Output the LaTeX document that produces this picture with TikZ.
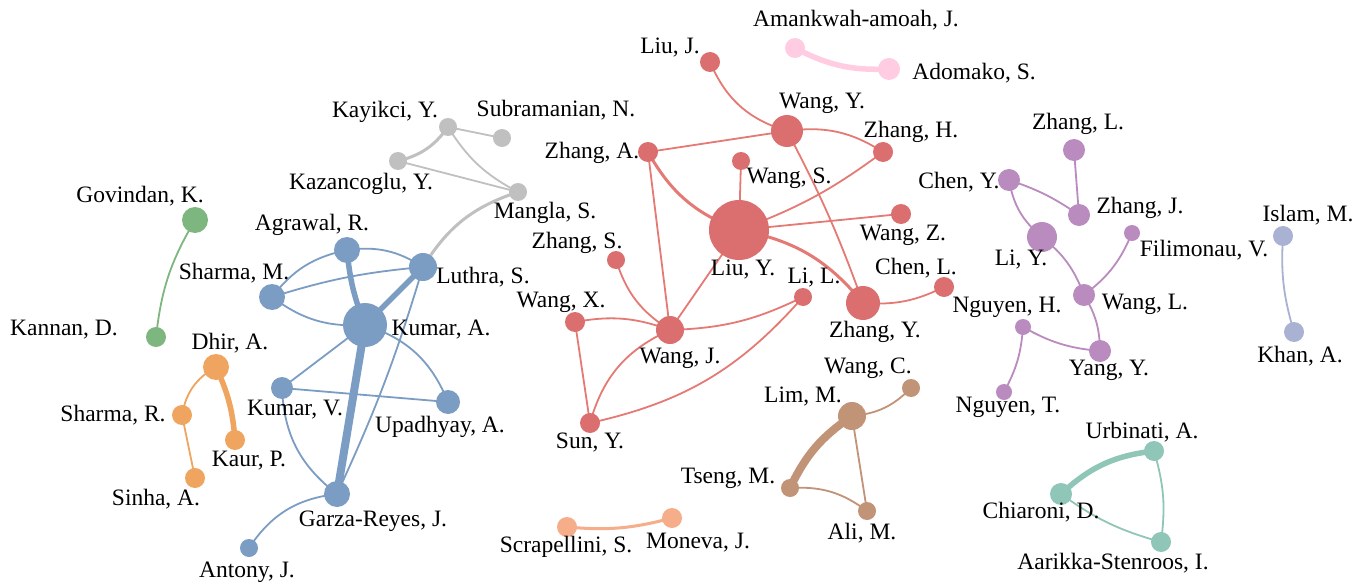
\documentclass[tikz,border=0pt]{standalone}
\usepackage{fontspec}
\setmainfont{Liberation Serif}
\pgfdeclarelayer{back}
\pgfdeclarelayer{bg}
\pgfsetlayers{back,bg,main}
\definecolor{cb}{HTML}{7B9DC3}
\definecolor{cgy}{HTML}{C0C0C0}
\definecolor{cgr}{HTML}{7DB77F}
\definecolor{cor}{HTML}{EFA55F}
\definecolor{crd}{HTML}{DB6F70}
\definecolor{cre}{HTML}{E57A74}
\definecolor{cpk}{HTML}{FFCCE1}
\definecolor{cpu}{HTML}{B98BBE}
\definecolor{cla}{HTML}{A9B2D3}
\definecolor{cbr}{HTML}{C19377}
\definecolor{csa}{HTML}{F5AD8A}
\definecolor{cte}{HTML}{8FC6B7}
\begin{document}
\begin{tikzpicture}[x=1pt,y=-1pt,
  au/.style 2 args={circle,inner sep=0pt,fill=#1,minimum size=#2},
  lab/.style={font=\fontsize{23.5}{27}\selectfont,inner sep=0pt,text=black},
  ln/.style={draw=#1,line width=1.8pt},
  md/.style={draw=#1,line width=3pt},
  tk/.style={draw=#1,line width=5.5pt},
  vt/.style={draw=#1,line width=8pt}]
\begin{pgfonlayer}{back}
\fill[white] (0,0) rectangle (1368,583);
\end{pgfonlayer}
\useasboundingbox (0,0) rectangle (1368,583);

% ---------- blue cluster
\node[au={cb}{26pt}] (agrawal) at (347,250) {};
\node[au={cb}{28pt}] (luthra) at (423,267) {};
\node[au={cb}{26pt}] (sharmam) at (272,297) {};
\node[au={cb}{44pt}] (kumara) at (365,325) {};
\node[au={cb}{22pt}] (kumarv) at (282,388) {};
\node[au={cb}{24pt}] (upadhyay) at (448,402) {};
\node[au={cb}{26pt}] (garza) at (337,494) {};
\node[au={cb}{18pt}] (antony) at (249,548) {};
% ---------- gray cluster
\node[au={cgy}{18pt}] (kayikci) at (448,127) {};
\node[au={cgy}{18pt}] (subra) at (502,138) {};
\node[au={cgy}{18pt}] (kazan) at (398,161) {};
\node[au={cgy}{18pt}] (mangla) at (518,192) {};
% ---------- green
\node[au={cgr}{26pt}] (govindan) at (195,220) {};
\node[au={cgr}{20pt}] (kannan) at (156,337) {};
% ---------- orange
\node[au={cor}{26pt}] (dhir) at (216,367) {};
\node[au={cor}{20pt}] (sharmar) at (182,415) {};
\node[au={cor}{20pt}] (kaur) at (235,440) {};
\node[au={cor}{20pt}] (sinha) at (195,478) {};
% ---------- red cluster
\node[au={crd}{20pt}] (liuj) at (710,62) {};
\node[au={crd}{32pt}] (wangy) at (787,131) {};
\node[au={crd}{20pt}] (zhangh) at (883,152) {};
\node[au={crd}{20pt}] (zhanga) at (648,152) {};
\node[au={crd}{18pt}] (wangs) at (741,161) {};
\node[au={crd}{60pt}] (liuy) at (739,230) {};
\node[au={crd}{20pt}] (wangz) at (901,214) {};
\node[au={crd}{18pt}] (zhangs) at (616,260) {};
\node[au={crd}{18pt}] (lil) at (803,297) {};
\node[au={crd}{34pt}] (zhangy) at (863,303) {};
\node[au={crd}{20pt}] (chenl) at (944,287) {};
\node[au={crd}{20pt}] (wangx) at (575,322) {};
\node[au={crd}{28pt}] (wangj) at (670,330) {};
\node[au={crd}{20pt}] (suny) at (590,423) {};
% ---------- pink
\node[au={cpk}{20pt}] (amank) at (795,48) {};
\node[au={cpk}{22pt}] (adomako) at (889,69) {};
% ---------- purple
\node[au={cpu}{22pt}] (zhangl) at (1074,150) {};
\node[au={cpu}{22pt}] (cheny) at (1009,180) {};
\node[au={cpu}{22pt}] (zhangj) at (1079,215) {};
\node[au={cpu}{30pt}] (liy) at (1042,237) {};
\node[au={cpu}{16pt}] (filim) at (1132,233) {};
\node[au={cpu}{22pt}] (wangl) at (1084,295) {};
\node[au={cpu}{16pt}] (nguyenh) at (1023,327) {};
\node[au={cpu}{22pt}] (yangy) at (1100,351) {};
\node[au={cpu}{16pt}] (nguyent) at (1004,392) {};
% ---------- lavender
\node[au={cla}{20pt}] (islam) at (1283,236) {};
\node[au={cla}{20pt}] (khan) at (1294,332) {};
% ---------- brown
\node[au={cbr}{28pt}] (lim) at (852,416) {};
\node[au={cbr}{18pt}] (wangc) at (911,388) {};
\node[au={cbr}{18pt}] (tseng) at (790,488) {};
\node[au={cbr}{18pt}] (ali) at (867,511) {};
% ---------- salmon
\node[au={csa}{20pt}] (scrap) at (567,527) {};
\node[au={csa}{20pt}] (moneva) at (672,518) {};
% ---------- teal
\node[au={cte}{20pt}] (urbinati) at (1154,451) {};
\node[au={cte}{22pt}] (chiaroni) at (1061,494) {};
\node[au={cte}{20pt}] (aarikka) at (1161,542) {};

\begin{pgfonlayer}{bg}
% blue
\draw[ln=cb] (sharmam.center) to[bend left=20] (agrawal.center);
\draw[ln=cb] (agrawal.center) to[bend left=20] (luthra.center);
\draw[ln=cb] (sharmam.center) to[bend left=6] (luthra.center);
\draw[ln=cb] (sharmam.center) to[bend right=20] (kumara.center);
\draw[tk=cb] (agrawal.center) to[bend right=8] (kumara.center);
\draw[tk=cb] (luthra.center) to (kumara.center);
\draw[ln=cb] (kumara.center) to (kumarv.center);
\draw[ln=cb] (kumara.center) to[bend left=25] (upadhyay.center);
\draw[vt=cb] (kumara.center) to (garza.center);
\draw[ln=cb] (kumarv.center) to (upadhyay.center);
\draw[ln=cb] (kumarv.center) to[bend right=25] (garza.center);
\draw[ln=cb] (luthra.center) to[bend left=4] (garza.center);
\draw[ln=cb] (garza.center) to[bend right=25] (antony.center);
% gray
\draw[ln=cgy] (kayikci.center) to (subra.center);
\draw[md=cgy] (kayikci.center) to[bend left=20] (kazan.center);
\draw[ln=cgy] (kayikci.center) to[bend right=15] (mangla.center);
\draw[ln=cgy] (kazan.center) to (mangla.center);
\draw[md=cgy] (mangla.center) to[bend right=20] (luthra.center);
% green
\draw[ln=cgr] (govindan.center) to[bend right=12] (kannan.center);
% orange
\draw[ln=cor] (dhir.center) to[bend right=25] (sharmar.center);
\draw[tk=cor] (dhir.center) to[bend left=10] (kaur.center);
\draw[ln=cor] (sharmar.center) to (sinha.center);
% red
\draw[ln=cre] (liuj.center) to[bend right=25] (wangy.center);
\draw[ln=cre] (wangy.center) to (zhanga.center);
\draw[ln=cre] (wangy.center) to[bend left=20] (zhangh.center);
\draw[ln=cre] (wangy.center) to[bend left=4] (zhangy.center);
\draw[md=cre] (zhanga.center) to[bend right=20] (liuy.center);
\draw[ln=cre] (zhanga.center) to (wangj.center);
\draw[ln=cre] (wangs.center) to (liuy.center);
\draw[ln=cre] (liuy.center) to[bend right=8] (zhangh.center);
\draw[ln=cre] (liuy.center) to (wangz.center);
\draw[md=cre] (liuy.center) to[bend left=20] (zhangy.center);
\draw[ln=cre] (liuy.center) to (wangj.center);
\draw[ln=cre] (zhangs.center) to[bend right=20] (wangj.center);
\draw[ln=cre] (wangx.center) to[bend left=15] (wangj.center);
\draw[ln=cre] (wangx.center) to (suny.center);
\draw[ln=cre] (wangj.center) to[bend right=12] (lil.center);
\draw[ln=cre] (wangj.center) to[bend right=25] (suny.center);
\draw[ln=cre] (lil.center) to[bend left=18] (suny.center);
\draw[ln=cre] (zhangy.center) to[bend right=15] (chenl.center);
% pink
\draw[tk=cpk] (amank.center) to[bend right=15] (adomako.center);
% purple
\draw[ln=cpu] (zhangl.center) to (zhangj.center);
\draw[ln=cpu] (cheny.center) to[bend left=8] (zhangj.center);
\draw[ln=cpu] (cheny.center) to[bend right=20] (liy.center);
\draw[ln=cpu] (liy.center) to[bend left=15] (wangl.center);
\draw[ln=cpu] (wangl.center) to[bend right=15] (filim.center);
\draw[ln=cpu] (wangl.center) to[bend left=15] (yangy.center);
\draw[ln=cpu] (nguyenh.center) to[bend right=12] (yangy.center);
\draw[ln=cpu] (nguyenh.center) to[bend left=12] (nguyent.center);
% lavender
\draw[ln=cla] (islam.center) to[bend right=10] (khan.center);
% brown
\draw[ln=cbr] (lim.center) to[bend right=20] (wangc.center);
\draw[vt=cbr] (lim.center) to[bend right=15] (tseng.center);
\draw[ln=cbr] (lim.center) to (ali.center);
\draw[ln=cbr] (tseng.center) to[bend left=20] (ali.center);
% salmon
\draw[md=csa] (scrap.center) to[bend right=10] (moneva.center);
% teal
\draw[tk=cte] (chiaroni.center) to[bend left=18] (urbinati.center);
\draw[ln=cte] (urbinati.center) to[bend left=12] (aarikka.center);
\draw[ln=cte] (chiaroni.center) to[bend right=10] (aarikka.center);
\end{pgfonlayer}

% ---------- labels
\node[lab] (l1) at (140,196) {Govindan, K.};
\node[lab] (l2) at (64,330) {Kannan, D.};
\node[lab] (l3) at (312,225) {Agrawal, R.};
\node[lab] (l4) at (234,273) {Sharma, M.};
\node[lab] (l5) at (483,277) {Luthra, S.};
\node[lab] (l6) at (441,330) {Kumar, A.};
\node[lab] (l7) at (295,410) {Kumar, V.};
\node[lab] (l8) at (440,427) {Upadhyay, A.};
\node[lab] (l9) at (373,521) {Garza-Reyes, J.};
\node[lab] (l10) at (247,572) {Antony, J.};
\node[lab] (l11) at (385,112) {Kayikci, Y.};
\node[lab] (l12) at (556,110) {Subramanian, N.};
\node[lab] (l13) at (361,184) {Kazancoglu, Y.};
\node[lab] (l14) at (545,213) {Mangla, S.};
\node[lab] (l15) at (230,343) {Dhir, A.};
\node[lab] (l16) at (113,415) {Sharma, R.};
\node[lab] (l17) at (249,461) {Kaur, P.};
\node[lab] (l18) at (156,499) {Sinha, A.};
\node[lab] (l19) at (670,48) {Liu, J.};
\node[lab] (l20) at (856,20) {Amankwah-amoah, J.};
\node[lab] (l21) at (974,73) {Adomako, S.};
\node[lab] (l22) at (822,103) {Wang, Y.};
\node[lab] (l23) at (911,132) {Zhang, H.};
\node[lab] (l24) at (592,153) {Zhang, A.};
\node[lab] (l25) at (789,178) {Wang, S.};
\node[lab] (l26) at (903,235) {Wang, Z.};
\node[lab] (l27) at (577,243) {Zhang, S.};
\node[lab] (l28) at (743,270) {Liu, Y.};
\node[lab] (l29) at (814,278) {Li, L.};
\node[lab] (l30) at (916,268) {Chen, L.};
\node[lab] (l31) at (875,332) {Zhang, Y.};
\node[lab] (l32) at (561,302) {Wang, X.};
\node[lab] (l33) at (680,358) {Wang, J.};
\node[lab] (l34) at (590,443) {Sun, Y.};
\node[lab] (l35) at (868,368) {Wang, C.};
\node[lab] (l36) at (803,397) {Lim, M.};
\node[lab] (l37) at (728,478) {Tseng, M.};
\node[lab] (l38) at (862,533) {Ali, M.};
\node[lab] (l39) at (566,547) {Scrapellini, S.};
\node[lab] (l40) at (698,543) {Moneva, J.};
\node[lab] (l41) at (1078,124) {Zhang, L.};
\node[lab] (l42) at (959,182) {Chen, Y.};
\node[lab] (l43) at (1140,208) {Zhang, J.};
\node[lab] (l44) at (1308,215) {Islam, M.};
\node[lab] (l45) at (1204,250) {Filimonau, V.};
\node[lab] (l46) at (1021,260) {Li, Y.};
\node[lab] (l47) at (1145,304) {Wang, L.};
\node[lab] (l48) at (1007,307) {Nguyen, H.};
\node[lab] (l49) at (1109,370) {Yang, Y.};
\node[lab] (l50) at (1300,356) {Khan, A.};
\node[lab] (l51) at (1008,407) {Nguyen, T.};
\node[lab] (l52) at (1142,432) {Urbinati, A.};
\node[lab] (l53) at (1041,512) {Chiaroni, D.};
\node[lab] (l54) at (1113,563) {Aarikka-Stenroos, I.};
\end{tikzpicture}
\end{document}
